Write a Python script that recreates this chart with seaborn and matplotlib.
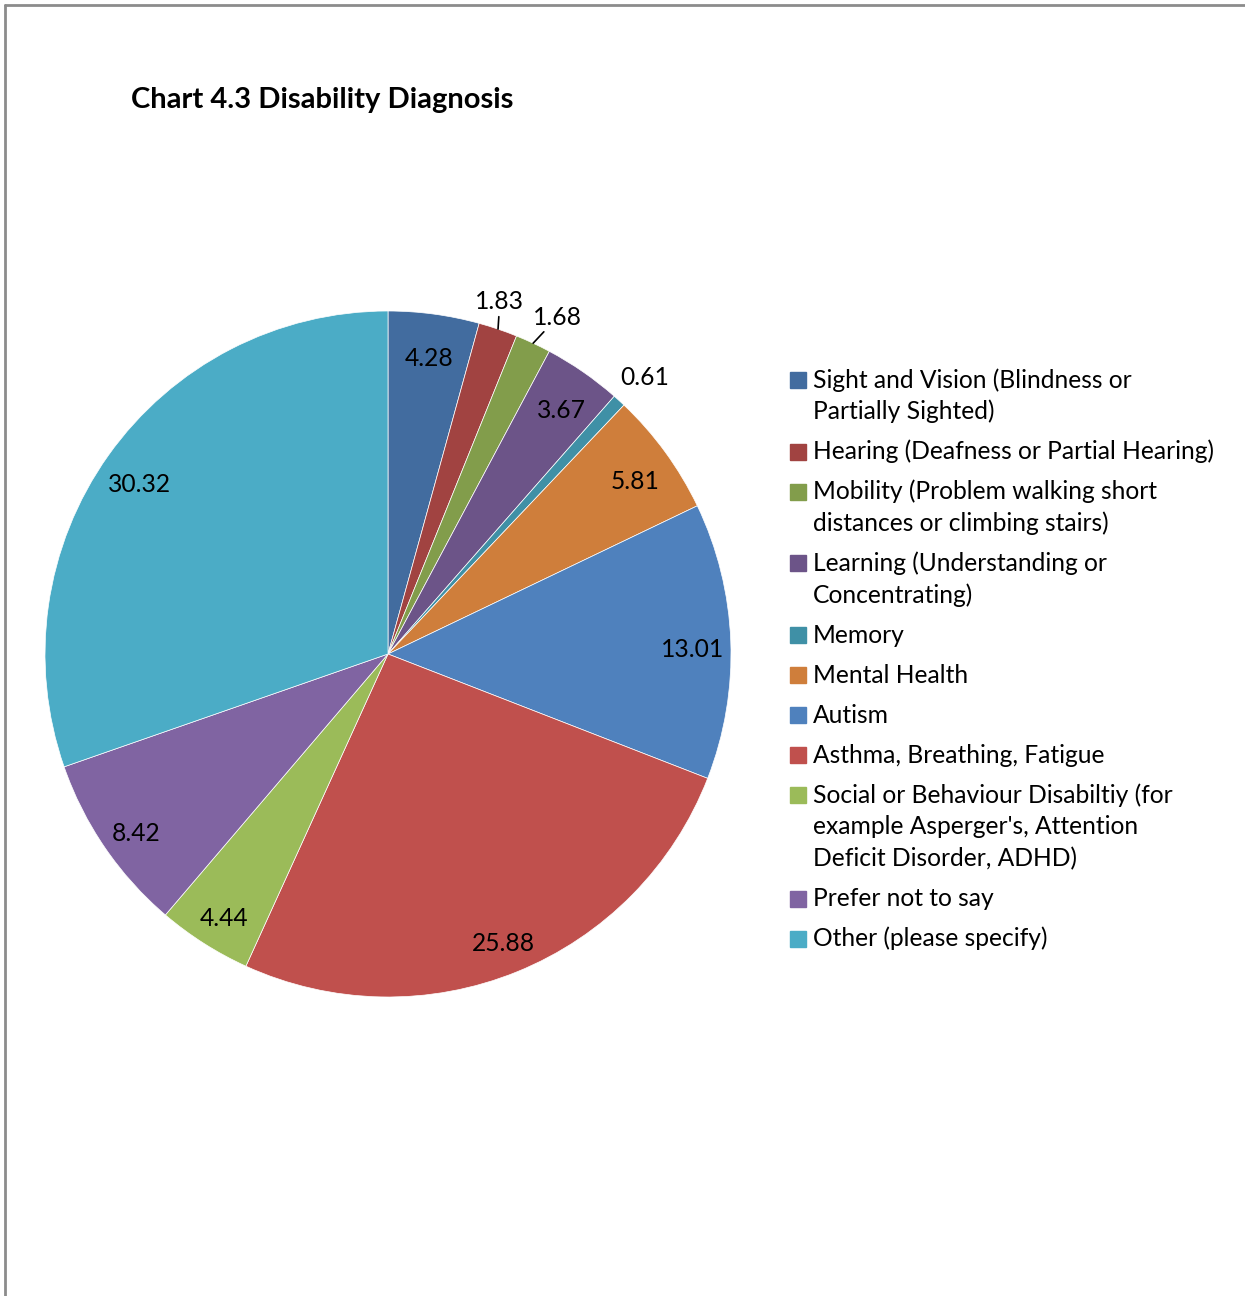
import numpy as np
import seaborn as sns
import matplotlib.pyplot as plt
from matplotlib.patches import Rectangle

# DATA
categories = ['Sight and Vision (Blindness or\nPartially Sighted)',
              'Hearing (Deafness or Partial Hearing)',
              'Mobility (Problem walking short\ndistances or climbing stairs)',
              'Learning (Understanding or\nConcentrating)',
              'Memory',
              'Mental Health',
              'Autism',
              'Asthma, Breathing, Fatigue',
              "Social or Behaviour Disabiltiy (for\nexample Asperger's, Attention\nDeficit Disorder, ADHD)",
              'Prefer not to say',
              'Other (please specify)']
values = [4.28, 1.83, 1.68, 3.67, 0.61, 5.81, 13.01, 25.88, 4.44, 8.42, 30.32]
value_labels = ['4.28', '1.83', '1.68', '3.67', '0.61', '5.81', '13.01', '25.88', '4.44', '8.42', '30.32']

# EXCEL-STYLE COLOURS
palette = sns.color_palette(['#426C9F', '#A14341', '#829D4B', '#6C5488', '#3F90A6', '#CF7E3B',
                             '#4F81BD', '#C0504D', '#9BBB59', '#8064A2', '#4BACC6'])

sns.set_theme(style='white')
plt.rcParams['font.family'] = ['Lato', 'DejaVu Sans']
plt.rcParams['text.color'] = 'black'

FS = 17.7
W, H = 1245, 1296
fig = plt.figure(figsize=(W / 100, H / 100), dpi=100)

# frame around the chart area (only top/left visible)
fig.add_artist(plt.Line2D([5 / W, 1.0], [1 - 5 / H, 1 - 5 / H], color='#8c8c8c', lw=2))
fig.add_artist(plt.Line2D([5.5 / W, 5.5 / W], [0.0, 1 - 5 / H], color='#8c8c8c', lw=2))

# PIE
ax = fig.add_axes([45 / W, 299 / H, 686 / W, 686 / H])
wedges, _ = ax.pie(values, colors=palette, startangle=90, counterclock=False,
                   wedgeprops=dict(edgecolor='white', linewidth=0.5))
ax.set_xlim(-1, 1)
ax.set_ylim(-1, 1)

# label placement: radius, angle shift (deg), leader line
outside = {1: (1.077, 1.1, True), 2: (1.10, -1.7, True), 4: (1.10, -0.5, False)}
for i, (w, lab) in enumerate(zip(wedges, value_labels)):
    mid = np.deg2rad((w.theta1 + w.theta2) / 2)
    if i in outside:
        r, shift, line = outside[i]
        ang = mid + np.deg2rad(shift)
        xt, yt = r * np.cos(ang), r * np.sin(ang)
        if line:
            ax.annotate(lab, xy=(np.cos(mid), np.sin(mid)), xytext=(xt, yt),
                        ha='center', va='center', fontsize=FS, annotation_clip=False,
                        arrowprops=dict(arrowstyle='-', color='black', lw=1.2,
                                        shrinkA=0, shrinkB=0))
        else:
            ax.text(xt, yt, lab, ha='center', va='center', fontsize=FS)
    else:
        ax.text(0.89 * np.cos(mid), 0.89 * np.sin(mid) - 0.015, lab,
                ha='center', va='center_baseline', fontsize=FS)

# TITLE
fig.text(131 / W, 1 - 100 / H, 'Chart 4.3 Disability Diagnosis', ha='left', va='center',
         fontsize=21, fontweight='bold')

# LEGEND (handle aligned with first line of each entry)
y = 380
for cat, col in zip(categories, palette):
    fig.add_artist(Rectangle((790 / W, 1 - (y + 8) / H), 16 / W, 16 / H, color=col))
    for line in cat.split('\n'):
        fig.text(813 / W, 1 - y / H, line, ha='left', va='center', fontsize=FS)
        y += 31.7
    y += 8.3

fig.savefig('out.png', dpi=100)
